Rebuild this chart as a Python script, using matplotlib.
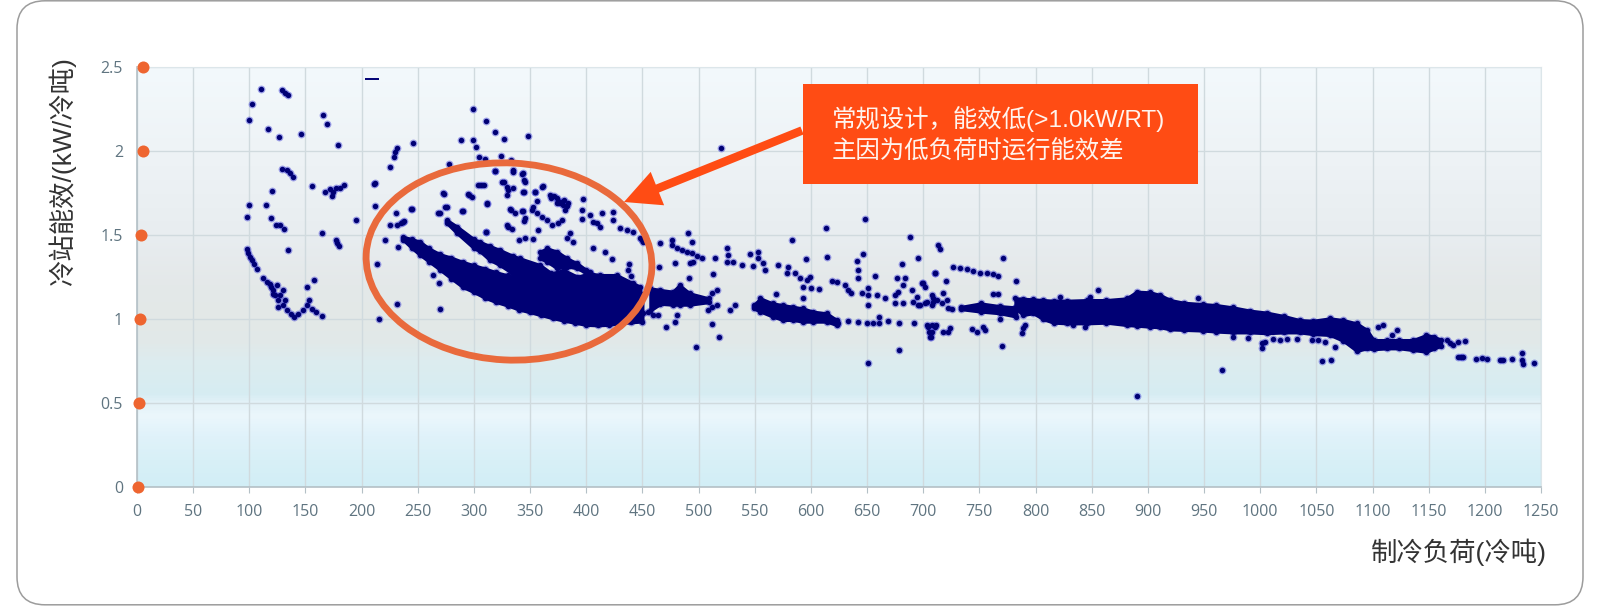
import numpy as np
import matplotlib
matplotlib.use("Agg")
import matplotlib.pyplot as plt
from matplotlib.colors import LinearSegmentedColormap
from matplotlib.patches import Ellipse, FancyBboxPatch, Rectangle, FancyArrow

CJK = ['Liberation Sans', 'Noto Sans CJK SC', 'DejaVu Sans']

x_ticks = list(range(0, 1251, 50))
y_ticks = [0, 0.5, 1, 1.5, 2, 2.5]
y_tick_labels = ['0', '0.5', '1', '1.5', '2', '2.5']
x_title = '制冷负荷(冷吨)'
y_title = '冷站能效/(kW/冷吨)'
note_lines = ['常规设计，能效低(>1.0kW/RT)', '主因为低负荷时运行能效差']
axis_dot_x = [1, 2, 3, 4, 5, 5.3]

# individually readable points, region by region
left_x = [110.4,128.8,131.8,134.7,102.7,99.4,116.9,126.1,145.7,165.6,169.1,178.9,245.4,231.2,230,228.5,225.5,212.2,211,
          128.8,133.8,136.2,139.2,155.8,120.2,167,171.8,173.6,177.2,180.7,184.6,174.2,99.4,98.2,114.8,119.3,123.7,127.3,131.2,
          212.2,195.3,164.7,177.2,178.3,179.5,134.7,98.2,99.1,100.6,102.4,104.2,107.1,112.5,116,119,121.4,122.8,125.8,129.7,133.2,136.8,140.1,
          124.3,130.3,131.8,127.3,118.4,121.4,125.8,143.6,147.5,151,153.4,155.5,159.3,164.4,151.6,157.9,213.4,231.2,215.4,
          230.6,244.2,225.2,231.2,234.8,237.8,220.8,232]
left_y = [2.367,2.361,2.347,2.333,2.278,2.187,2.129,2.083,2.101,2.216,2.161,2.038,2.05,2.018,1.994,1.962,1.903,1.81,1.806,
          1.895,1.889,1.869,1.847,1.792,1.76,1.758,1.776,1.734,1.78,1.78,1.796,1.756,1.679,1.609,1.677,1.601,1.558,1.558,1.538,
          1.673,1.587,1.514,1.468,1.452,1.437,1.409,1.419,1.393,1.369,1.349,1.325,1.296,1.246,1.22,1.19,1.171,1.141,1.111,1.081,1.056,1.032,1.012,
          1.2,1.175,1.111,1.141,1.21,1.151,1.071,1.028,1.052,1.081,1.115,1.062,1.042,1.016,1.19,1.23,1.325,1.091,1.002,
          1.631,1.655,1.56,1.56,1.571,1.581,1.472,1.429]

ring_x = [272.8,303.4,309.3,295.1,298,312,318.8,335.2,344.1,345.6,324.8,329.8,329.2,335.2,344.1,354.5,361.9,356.3,
          367.8,373.7,378.2,384.1,381.2,376.7,379.7,396.9,269.9,275.8,290.1,244.7,237.2,332.2,336.6,345,343.5,
          351.5,355.9,360.4,364.8,369.3,375.2,378.2,329.2,333.7,310.8,340.5,345.5,353,357.4,385.6,382.6,388.6,
          406.4,416.8,422.7,438.4,437.5,439.9,263.9,269,269.9,396,403.4,406.4,413.8,412.3,424.2,424.2,430.1,442,447.9,450.9,
          396,409.3,436.1,299,310.4,318.4,327,347.7,288.2,299,301.4,304.7,309.4,323.8,333.3,318.4,277.6,335,342.9,344.5,
          306.3,327,330.2,344.5,360.4,354,295.2,312,273,268.2,274.6,289.4,333.3,342.9,344.5,330.2,310.4,352.4,
          371,375,380,369,374,383]
ring_y = [1.748,1.798,1.798,1.744,1.728,1.688,1.881,1.877,1.867,1.817,1.817,1.788,1.738,1.778,1.758,1.758,1.792,1.704,
          1.738,1.718,1.698,1.688,1.649,1.688,1.679,1.712,1.633,1.669,1.645,1.653,1.579,1.653,1.633,1.599,1.645,
          1.649,1.629,1.609,1.589,1.56,1.569,1.589,1.56,1.534,1.516,1.47,1.484,1.474,1.53,1.51,1.48,1.46,
          1.421,1.401,1.355,1.325,1.292,1.256,1.262,1.212,1.058,1.593,1.619,1.579,1.629,1.55,1.639,1.589,1.54,1.52,1.48,1.46,
          1.649,1.569,1.53,2.252,2.177,2.113,2.07,2.087,2.068,2.068,2.024,1.964,1.954,1.968,1.948,1.881,1.924,1.885,1.865,1.825,
          1.795,1.815,1.765,1.755,1.785,1.755,1.736,1.686,1.745,1.632,1.666,1.642,1.65,1.64,1.586,1.547,1.517,1.666,
          1.73,1.70,1.71,1.72,1.69,1.67]

mid_x = [519.6,490.8,493.8,465.6,476,476,480.4,484.9,489.3,493.8,498.2,502.7,492.3,495.3,478.9,464.7,449.3,491.7,513.1,
         514.5,525.5,526.4,524.9,530.9,538.3,545.7,553.1,548.7,553.1,557.6,559.1,570.9,579.8,578.3,585.8,590.2,593.2,599.1,596.1,599.7,607.4,
         595.3,582.8,613.1,613.9,648.4,646,640.7,641.8,641.8,657.3,618.4,622.8,630.3,633.2,635.3,645.1,651,651,651,658.5,665.9,
         688,681.3,695,710.4,676.3,683.7,677.7,674.8,682.2,689.6,700,694.1,701.5,708.9,674.8,682.2,691.1,695.5,707.4,
         516,511.6,516,511.6,508.6,532.3,527.9,480.4,478.9,470.9,464.1,497.6,512.2,517.8,568.5,593.2,
         624,632.9,642.1,649.6,655.5,660.2,660.2,668.8,678.3,691.7,678.3,650.4,703,707.4,711.3,705.3,706.5,
         450.7,455.2,459.6,447.8]
mid_y = [2.018,1.51,1.46,1.45,1.47,1.44,1.42,1.41,1.40,1.39,1.375,1.361,1.331,1.341,1.335,1.308,1.47,1.246,1.266,
         1.361,1.421,1.381,1.341,1.341,1.321,1.387,1.401,1.315,1.361,1.331,1.292,1.321,1.311,1.272,1.272,1.242,1.192,1.252,1.232,1.183,1.177,
         1.355,1.47,1.544,1.367,1.595,1.387,1.345,1.292,1.246,1.258,1.226,1.222,1.202,1.173,1.153,1.153,1.183,1.143,1.083,1.143,1.123,
         1.486,1.325,1.361,1.272,1.242,1.242,1.163,1.143,1.202,1.173,1.212,1.133,1.093,1.123,1.093,1.097,1.103,1.083,1.083,
         1.173,1.153,1.083,1.073,1.054,1.083,1.054,1.024,.984,.954,1.024,.835,.97,.895,1.147,1.123,
         .978,.986,.982,.978,.974,1.014,.974,.986,.978,.974,.815,.738,.964,.964,.964,.925,.895,
         1.034,1.044,1.024,1.014]

right_x = [713.5,715,771.4,726.9,732.8,738.7,744.7,750.6,756.5,762.5,766.9,710.5,720.3,782.6,698.7,701.6,
           707.6,717.9,720.9,709,716.5,725.4,703.1,697.2,722.4,712,762.5,766.9,768.4,769.9,704.6,710.5,706.1,707.6,
           718,723.9,722.4,743.2,747.6,753.6,755,790.7,789.2,787.7,855.3,848.5,821.8,945,890.6,833.7,844,
           1109,1105,1121.5,1117,1166,1172,1176.4,1182.4,1169,1178.7,1176.4,1180.9,1192.2,1197.2,1201.7,1213.6,1216.5,1224,
           1233.4,1233.4,1233.7,1243.8,1054.7,1063,965.7,976.1,988.8,1001.3,1001.3,1004.3,1011.7,1017.6,1023.5,1032.5,1045.8,1051.8,1057.7,1066.6]
right_y = [1.44,1.415,1.361,1.312,1.306,1.298,1.288,1.276,1.272,1.266,1.256,1.276,1.228,1.228,1.212,1.192,
           1.143,1.153,1.113,1.103,1.093,1.058,1.103,1.083,1.063,1.113,1.149,1.149,.998,.841,.954,.954,.895,.925,
           .925,.944,.925,.938,.925,.954,.935,.964,.944,.915,1.173,1.133,1.133,1.127,.542,.964,.954,
           .964,.955,.935,.905,.875,.845,.865,.871,.855,.776,.776,.776,.762,.766,.764,.756,.756,.76,
           .8,.756,.732,.74,.75,.756,.696,.895,.885,.855,.825,.865,.879,.875,.879,.879,.875,.875,.865,.835]

clipped_x = [209.2]
clipped_y = [2.43]

# dense masses where points merge: load, lower and upper efficiency edge
mass_a_x = [237,245,252,260,270,280,290,300,310,320,330,340,350,360,370,380,390,400,410,420,430,440,450]
mass_a_lo = [1.47,1.42,1.381,1.342,1.292,1.24,1.19,1.16,1.125,1.10,1.08,1.056,1.04,1.022,1.005,.99,.977,.965,.962,.965,.975,.98,.985]
mass_a_hi = [1.49,1.475,1.46,1.42,1.385,1.365,1.34,1.32,1.30,1.278,1.26,1.24,1.23,1.22,1.21,1.20,1.20,1.20,1.20,1.20,1.20,1.19,1.15]

mass_b_x = [276,285,300,305,314,323,335,341,359,369,380,392,403,412,427,442,448]
mass_b_lo = [1.569,1.51,1.421,1.405,1.351,1.321,1.268,1.24,1.18,1.17,1.17,1.17,1.17,1.17,1.17,1.15,1.13]
mass_b_hi = [1.589,1.55,1.475,1.46,1.435,1.411,1.375,1.361,1.321,1.272,1.292,1.252,1.272,1.262,1.262,1.212,1.192]

mass_c_x = [359,365,374,383,392,400,403]
mass_c_lo = [1.361,1.341,1.302,1.312,1.302,1.272,1.268]
mass_c_hi = [1.401,1.421,1.401,1.361,1.331,1.292,1.282]

mass_d_x = [457,466,477,483,492,509]
mass_d_lo = [1.05,1.09,1.085,1.085,1.085,1.10]
mass_d_hi = [1.183,1.173,1.163,1.202,1.153,1.123]

mass_e_x = [549,555,566,575,584,593,602,614,623]
mass_e_lo = [1.063,1.044,1.014,.994,.994,.984,.984,.984,.964]
mass_e_hi = [1.083,1.123,1.093,1.083,1.073,1.063,1.044,1.034,.994]

mass_f_x = [734,751,768,783]
mass_f_lo = [1.058,1.044,1.034,1.014]
mass_f_hi = [1.073,1.093,1.077,1.069]

mass_g_x = [782,789,798,807,816,828,846,863,881,890,902,911,920,932,949,961,976,991,1006,1021,1035,1047,1062,1074,1086,1095,1101,1113,1124,1136,1148,1155,1161]
mass_g_lo = [1.063,1.024,1.034,.998,.978,.974,.974,.978,.964,.96,.954,.95,.938,.935,.931,.925,.92,.92,.915,.92,.92,.91,.905,.87,.81,.825,.82,.825,.825,.815,.805,.825,.84]
mass_g_hi = [1.123,1.121,1.117,1.113,1.109,1.109,1.113,1.113,1.123,1.163,1.159,1.143,1.113,1.097,1.089,1.083,1.069,1.05,1.038,1.018,.994,.99,1.004,.994,.974,.935,.875,.875,.875,.875,.905,.895,.875]

masses = [(mass_a_x, mass_a_lo, mass_a_hi), (mass_b_x, mass_b_lo, mass_b_hi), (mass_c_x, mass_c_lo, mass_c_hi),
          (mass_d_x, mass_d_lo, mass_d_hi), (mass_e_x, mass_e_lo, mass_e_hi), (mass_f_x, mass_f_lo, mass_f_hi),
          (mass_g_x, mass_g_lo, mass_g_hi)]

W, H = 1600, 606
fig = plt.figure(figsize=(W / 100, H / 100), dpi=100, facecolor='white')
ax = fig.add_axes([137 / W, 1 - 487 / H, 1404 / W, 420 / H])

stops = [(0.0, '#D2EEF6'), (0.06, '#D8F0F7'), (0.12, '#E0F2FA'), (0.168, '#EBF7FC'), (0.2, '#E2F1F7'),
         (0.22, '#D6ECF2'), (0.3, '#DDECEF'), (0.34, '#E1E9E9'), (0.4, '#E3E8E7'), (0.48, '#E4E8E9'),
         (0.6, '#E8EDF0'), (0.8, '#EEF3F6'), (1.0, '#F3F9FC')]
cmap = LinearSegmentedColormap.from_list('bg', stops)
ax.imshow(np.linspace(0, 1, 420)[:, None], origin='lower', extent=[0, 1250, 0, 2.5], aspect='auto', cmap=cmap, zorder=0)
ax.set_xlim(0, 1250)
ax.set_ylim(0, 2.5)
ax.set_axisbelow(True)
ax.grid(True, color='#D0DADE', lw=1)

for s in ax.spines.values():
    s.set_color('#DCE6EA')
for s in ('left', 'bottom'):
    ax.spines[s].set_color('#B4C0C6')
    ax.spines[s].set_linewidth(1.2)

ax.set_xticks(x_ticks)
ax.set_yticks(y_ticks)
ax.set_yticklabels(y_tick_labels)
ax.tick_params(axis='x', length=4, color='#B4C0C6', labelcolor='#5F7480', pad=8, labelsize=11.5)
ax.tick_params(axis='y', length=0, labelcolor='#5F7480', pad=10, labelsize=11.5)
for t in ax.get_xticklabels() + ax.get_yticklabels():
    t.set_fontfamily('Open Sans')

NAVY = '#000074'
HALO = '#2626D2'
all_x = left_x + ring_x + mid_x + right_x
all_y = left_y + ring_y + mid_y + right_y
edge_x, edge_y = [], []
for mx, lo, hi in masses:
    edge_x += list(mx) + list(mx)
    edge_y += list(lo) + list(hi)

ax.scatter(all_x + edge_x, all_y + edge_y, s=32, color=HALO, alpha=0.4, lw=0, zorder=3)
for mx, lo, hi in masses:
    ax.fill_between(mx, lo, hi, color=NAVY, lw=2.2, zorder=4)
ax.scatter(all_x + edge_x, all_y + edge_y, s=15, color=NAVY, lw=0, zorder=5)
ax.scatter(clipped_x, clipped_y, s=90, marker='_', color=NAVY, lw=1.4, zorder=5)

ax.scatter(axis_dot_x, y_ticks, s=75, color='#EE6530', lw=0, clip_on=False, zorder=7)

# overlay in image pixels: card frame, ring, callout
ov = fig.add_axes([0, 0, 1, 1], zorder=5)
ov.set_xlim(0, W)
ov.set_ylim(H, 0)
ov.axis('off')
ov.patch.set_alpha(0)
ov.add_patch(FancyBboxPatch((17 + 28, 0.8 + 28), 1566 - 56, 604 - 56, boxstyle='round,pad=28,rounding_size=28',
                            fc='none', ec='#9C9C9C', lw=1.1))
ov.add_patch(Ellipse((509, 261.5), 286, 197, angle=3, fc='none', ec='#E96A3C', lw=4.9))
ov.add_patch(FancyArrow(802, 130.5, 624 - 802, 202 - 130.5, width=8.5, head_width=36, head_length=36,
                        length_includes_head=True, fc='#FF4C14', ec='none'))
ov.add_patch(Rectangle((802.5, 84), 395.5, 100, fc='#FF4C14', ec='none'))
ov.text(832, 119, note_lines[0], family=CJK, fontsize=17.6, color='#FFF4EE', va='center', ha='left')
ov.text(832, 152, note_lines[1], family=CJK, fontsize=17.6, color='#FFF4EE', va='center', ha='left')
ov.text(1547, 552, x_title, family=CJK, fontsize=19, color='#333333', va='center', ha='right')
ov.text(62, 172, y_title, family=CJK, fontsize=19, color='#333333', va='center', ha='center', rotation=90)

fig.savefig('out.png', dpi=100, facecolor='white')
